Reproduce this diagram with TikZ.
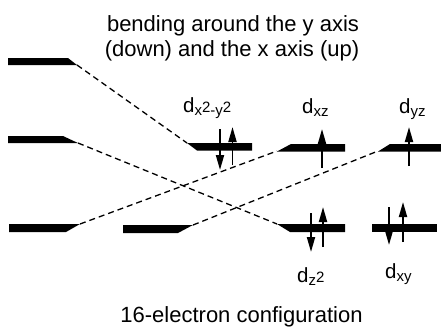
\documentclass[tikz,border=0pt]{standalone}
\usepackage{fontspec}
\setmainfont{Liberation Sans}
\usetikzlibrary{arrows.meta}
\usetikzlibrary{graphs}

\newcommand{\lowsub}[1]{\raisebox{-3pt}{\fontsize{15}{15}\selectfont #1}}
\newcommand{\hisup}[1]{\raisebox{3pt}{#1}}

\tikzset{
	level/.style={fill=black},
	corr/.style={dash pattern=on 6pt off 4pt, line width=1.3pt},
	spin/.style={line width=1.9pt, -{Triangle[length=15pt,width=8pt]}},
	orb/.style={font=\fontsize{20.5}{20.5}\selectfont, inner sep=0pt, anchor=base west},
	caption/.style={font=\fontsize{22}{25}\selectfont, inner sep=0pt, anchor=base}
}

\begin{document}
\begin{tikzpicture}[x=1pt,y=-1pt]
	\useasboundingbox (0,0) rectangle (441,327);

	\node [name=head1,caption] at (233,31) {bending around the y axis};
	\node [name=head2,caption] at (232,56) {(down) and the x axis (up)};
	\node [name=foot,caption] at (241.5,322) {16-electron configuration};

	% levels before bending
	\fill [level] (8,58) -- (68,58) -- (77,65) -- (8,65) -- cycle;
	\fill [level] (8,136) -- (63,136) -- (78,143) -- (8,143) -- cycle;
	\fill [level] (9,224) -- (80,224) -- (66,232) -- (9,232) -- cycle;
	\fill [level] (123,225) -- (193,225) -- (178,233) -- (123,233) -- cycle;

	\coordinate (left1) at (77,65);
	\coordinate (left2) at (78,143);
	\coordinate (left3) at (80,224);
	\coordinate (left4) at (193,225);

	% levels after bending
	\fill [level] (187,143) -- (252,143) -- (252,150.5) -- (197,150.5) -- cycle;
	\fill [level] (291,144) -- (345,144) -- (345,151.5) -- (277,151.5) -- cycle;
	\fill [level] (390,144) -- (441,144) -- (441,151.5) -- (378,151.5) -- cycle;
	\fill [level] (277,224) -- (345,224) -- (345,232) -- (290,232) -- cycle;
	\fill [level] (372,224) -- (437,224) -- (437,232) -- (372,232) -- cycle;

	\coordinate (right1) at (187,143);
	\coordinate (right2) at (277,224);
	\coordinate (right3) at (277,151);
	\coordinate (right4) at (378,151);

	\node [name=lxy2,orb] at (183,112) {d\lowsub{x\hisup{2}-y\hisup{2}}};
	\node [name=lxz,orb] at (302,113) {d\lowsub{xz}};
	\node [name=lyz,orb] at (399,113) {d\lowsub{yz}};
	\node [name=lz2,orb] at (297,282) {d\lowsub{z\hisup{2}}};
	\node [name=lxy,orb] at (385,278) {d\lowsub{xy}};

\graph {(left1) --[corr] (right1)};
\graph {(left2) --[corr] (right2)};
\graph {(left3) --[corr] (right3)};
\graph {(left4) --[corr] (right4)};

\draw [spin] (220,129) -- (220,170);
\draw [spin] (232.5,165) -- (232.5,127);
\draw [spin] (322,168) -- (322,129);
\draw [spin] (409,166) -- (409,127);
\draw [spin] (311,213) -- (311,252);
\draw [spin] (323,247) -- (323,207);
\draw [spin] (389,207) -- (389,245);
\draw [spin] (403,242) -- (403,202);

\end{tikzpicture}
\end{document}
